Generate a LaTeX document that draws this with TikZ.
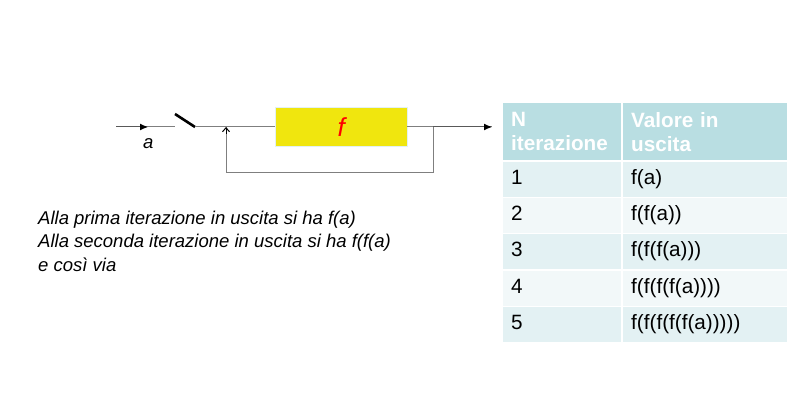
\documentclass[tikz,border=0pt]{standalone}
\usepackage{fontspec}
\setmainfont{Liberation Sans}
\usepackage{xcolor}
\usetikzlibrary{positioning,arrows.meta}
\definecolor{headcol}{HTML}{B9DEE2}
\definecolor{rowdark}{HTML}{E3F1F3}
\definecolor{rowlight}{HTML}{F2F8F9}
\definecolor{linecol}{HTML}{7F7F7F}
\definecolor{blockcol}{HTML}{F0E60E}
\tikzset{
	cell/.style={anchor=north west,inner sep=0pt,align=left},
	wire/.style={linecol,line width=1pt},
	tip/.style={black!65,-{Latex[black,length=8pt,width=7pt]},line width=1pt},
	numcell/.style={cell,minimum width=118pt,minimum height=35pt,text width=118pt,font=\fontsize{20.7}{24}\selectfont},
	valcell/.style={cell,minimum width=164pt,minimum height=35pt,text width=164pt,font=\fontsize{20.7}{24}\selectfont},
	say/.style={anchor=west,inner sep=0pt,font=\fontsize{18.5}{22}\selectfont\itshape}
}
\begin{document}
\begin{tikzpicture}[x=1pt,y=-1pt]
	\useasboundingbox (0,0) rectangle (801,401);
	% block
	\node[draw=rowdark,fill=blockcol,minimum width=132pt,minimum height=39pt,inner sep=0pt,anchor=north west] (fblock) at (275,107) {};
	\node[red,font=\fontsize{26}{26}\selectfont\itshape] (flabel) at (fblock.center) {f};
	\coordinate (in) at (116,127);
	\coordinate (arrowa) at (148,127);
	\coordinate (swa) at (175,127);
	\coordinate (swb) at (195,127);
	\coordinate (swtop) at (175,114);
	\coordinate (join) at (226,127);
	\coordinate (taken) at (433,127);
	\coordinate (out) at (492,127);
	\coordinate (backr) at (433,173);
	\coordinate (backl) at (226,173);
	\draw[wire] (in) -- (swa);
	\draw[tip] (in) -- (arrowa);
	\draw[line width=2.6pt] (swtop) -- (swb);
	\draw[wire] (swb) -- (fblock.west |- join);
	\draw[wire] (fblock.east |- taken) -- (out);
	\draw[tip] (taken) -- (out);
	\draw[wire] (taken) -- (backr) -- (backl) -- (join);
	\draw[black,-{Straight Barb[length=4pt,width=7pt]},line width=1pt] (226,134) -- (join);
	\node[say] (alabel) at (143,144) {a};
	% text
	\node[say] (line1) at (38,220) {Alla prima iterazione in uscita si ha f(a)};
	\node[say] (line2) at (38,243) {Alla seconda iterazione in uscita si ha f(f(a)};
	\node[say] (line3) at (38,265) {e così via};
	% table
	\node[cell,fill=headcol,minimum width=118pt,minimum height=57pt,text width=118pt,text=white,font=\fontsize{20.7}{24}\selectfont\bfseries] (h1) at (503,103) {\hspace*{8pt}N\\\hspace*{8pt}iterazione};
	\node[cell,fill=headcol,minimum width=164pt,minimum height=57pt,text width=164pt,text=white,font=\fontsize{20.7}{24}\selectfont\bfseries] (h2) at (623,103) {\hspace*{8pt}Valore in\\\hspace*{8pt}uscita};
	\foreach \r/\y/\c/\v in {1/162/rowdark/f(a),2/198/rowlight/f(f(a)),3/234/rowdark/f(f(f(a))),4/271/rowlight/f(f(f(f(a)))),5/307/rowdark/f(f(f(f(f(a)))))}{
		\node[numcell,fill=\c] (n\r) at (503,\y) {\strut\hspace*{8pt}\r};
		\node[valcell,fill=\c] (v\r) at (623,\y) {\strut\hspace*{8pt}\v};
	}
\end{tikzpicture}
\end{document}
